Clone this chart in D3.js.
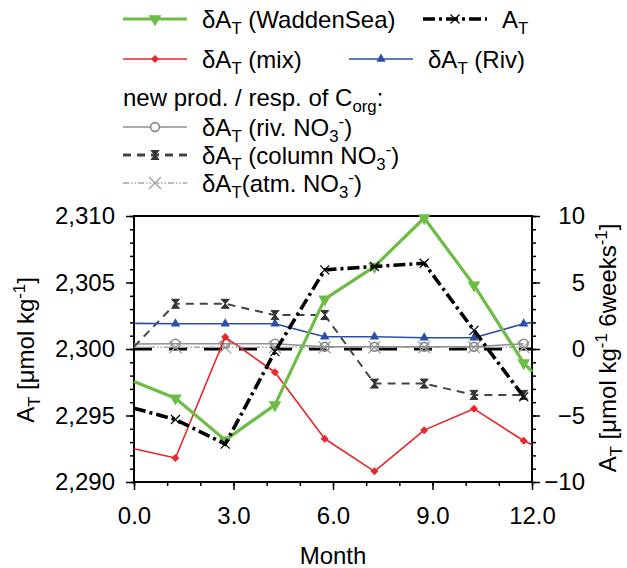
<!DOCTYPE html>
<html>
<head>
<meta charset="utf-8">
<script src="https://cdn.jsdelivr.net/npm/d3@7"></script>
<style>
  body { margin: 0; background: #fff; }
  text { font-family: "Liberation Sans", Arial, sans-serif; fill: #000; }
</style>
</head>
<body>
<script>
// month positions of the 6-week values (first and last entries are the line ends)
const months = [0, 1.25, 2.75, 4.25, 5.75, 7.25, 8.75, 10.25, 11.75, 12];
// values relative to 2300 (right axis units)
const wadden = [-2.45, -3.7, -6.85, -4.2, 3.75, 6.2, 9.85, 4.8, -1.05, -1.7];
const mix    = [-7.5, -8.2, 0.9, -1.75, -6.75, -9.2, -6.1, -4.5, -6.9, -7.2];
const riv    = [1.93, 1.9, 1.9, 1.9, 0.92, 0.92, 0.85, 0.85, 1.9, 2.0];
const aT     = [-4.45, -5.3, -7.15, -0.2, 5.95, 6.2, 6.45, 1.4, -3.6, null];
const rivNO3 = [0.37, 0.4, 0.4, 0.4, 0.17, 0.17, 0.17, 0.17, 0.4, null];
const colNO3 = [0.17, 3.4, 3.4, 2.55, 2.55, -2.6, -2.6, -3.45, -3.45, null];
const atmNO3 = [0.13, 0.13, 0.13, 0.13, 0.13, 0.13, 0.13, 0.13, 0.13, null];

const leftTicks = [2290, 2295, 2300, 2305, 2310];
const rightTicks = [-10, -5, 0, 5, 10];
const xTicks = [0, 3, 6, 9, 12];

const W = 627, H = 568;
const plot = {left: 134, right: 532, top: 216, bottom: 482};

const svg = d3.select("body").append("svg")
  .attr("width", W).attr("height", H);

const x = d3.scaleLinear().domain([0, 12]).range([plot.left, plot.right]);
const yL = d3.scaleLinear().domain([2290, 2310]).range([plot.bottom, plot.top]);
const yR = d3.scaleLinear().domain([-10, 10]).range([plot.bottom, plot.top]);

const FS = 24;

// text with sub/superscripts: parts = [[text, "sub"|"sup"|null], ...]
function richText(g, parts, size) {
  const t = g.append("text").style("font-size", size + "px");
  let shift = 0;
  parts.forEach(p => {
    let target = p[1] === "sub" ? 0.26 * size : p[1] === "sup" ? -0.38 * size : 0;
    const ts = t.append("tspan").text(p[0]).attr("dy", target - shift);
    if (p[1]) ts.style("font-size", (size * 0.7) + "px");
    shift = target;
  });
  return t;
}

// ---- axes ----
function styleAxis(g) {
  g.select(".domain").remove();
  g.selectAll("line").attr("stroke", "#000").attr("stroke-width", 1.5);
  g.selectAll("text").style("font-size", FS + "px");
}

// minor ticks
svg.append("g").attr("transform", `translate(${plot.left},0)`)
  .call(d3.axisLeft(yL).tickValues(d3.range(2290, 2311, 1)).tickSize(4).tickFormat(""))
  .call(styleAxis);
svg.append("g").attr("transform", `translate(${plot.right},0)`)
  .call(d3.axisRight(yR).tickValues(d3.range(-10, 11, 1)).tickSize(4).tickFormat(""))
  .call(styleAxis);
svg.append("g").attr("transform", `translate(0,${plot.bottom})`)
  .call(d3.axisBottom(x).tickValues(d3.range(0, 13, 1)).tickSize(4).tickFormat(""))
  .call(styleAxis);

// major ticks
svg.append("g").attr("transform", `translate(${plot.left},0)`)
  .call(d3.axisLeft(yL).tickValues(leftTicks).tickSize(8).tickPadding(11).tickFormat(d3.format(",")))
  .call(styleAxis);
const ra = svg.append("g").attr("transform", `translate(${plot.right},0)`)
  .call(d3.axisRight(yR).tickValues(rightTicks).tickSize(8).tickFormat(d3.format("d")))
  .call(styleAxis);
ra.selectAll("text").attr("text-anchor", "end").attr("x", 53);
svg.append("g").attr("transform", `translate(0,${plot.bottom})`)
  .call(d3.axisBottom(x).tickValues(xTicks).tickSize(8).tickPadding(17).tickFormat(d3.format(".1f")))
  .call(styleAxis);

// frame
svg.append("path")
  .attr("d", `M${plot.left},${plot.bottom}V${plot.top}H${plot.right}V${plot.bottom}H${plot.left}`)
  .attr("fill", "none").attr("stroke", "#000").attr("stroke-width", 2);

// axis titles
svg.append("text").attr("x", (plot.left + plot.right) / 2).attr("y", 564)
  .attr("text-anchor", "middle").style("font-size", FS + "px").text("Month");

const lt = richText(svg.append("g").attr("transform", "translate(34,350) rotate(-90)"),
  [["A"], ["T", "sub"], [" [\u03bcmol kg"], ["-1", "sup"], ["]"]], FS);
lt.attr("text-anchor", "middle");
const rt = richText(svg.append("g").attr("transform", "translate(616,348) rotate(-90)"),
  [["A"], ["T", "sub"], [" [\u03bcmol kg"], ["-1", "sup"], [" 6weeks"], ["-1", "sup"], ["]"]], FS);
rt.attr("text-anchor", "middle");

// ---- series ----
const pts = arr => months.map((m, i) => [m, arr[i]]);
const line = d3.line().defined(d => d[1] != null).x(d => x(d[0])).y(d => yR(d[1]));

const hourglass = "M-4,-4.5L4,-4.5L-4,4.5L4,4.5Z";
const cross = s => `M${-s},${-s}L${s},${s}M${-s},${s}L${s},${-s}`;

const series = [
  {data: atmNO3, color: "#a8a8a8", width: 1.4, dash: "6,2,1.5,2,1.5,2",
   marker: {d: cross(6), fill: "none", stroke: "#a8a8a8", sw: 1.5}},
  {data: rivNO3, color: "#909090", width: 1.5, dash: null,
   marker: {d: d3.symbol(d3.symbolCircle, 60)(), fill: "none", stroke: "#8a8a8a", sw: 1.6}},
  {data: colNO3, color: "#444", width: 2, dash: "8,6",
   marker: {d: hourglass, fill: "#333", stroke: "#333", sw: 1}},
  {data: riv, color: "#2b4ea6", width: 1.6, dash: null,
   marker: {d: d3.symbol(d3.symbolTriangle, 38)(), fill: "#2b4ea6", stroke: "none", sw: 0}},
  {data: mix, color: "#e8262b", width: 1.6, dash: null,
   marker: {d: d3.symbol(d3.symbolSquare, 32)(), rot: 45, fill: "#e8262b", stroke: "none", sw: 0}},
  {data: wadden, color: "#6cbd45", width: 3.2, dash: null,
   marker: {d: d3.symbol(d3.symbolTriangle, 70)(), rot: 180, fill: "#6cbd45", stroke: "none", sw: 0}},
  {data: aT, color: "#000", width: 3.6, dash: "12,4,3,4",
   marker: {d: cross(4.5), fill: "none", stroke: "#000", sw: 1.2}}
];

// zero reference (thick dashes)
svg.append("line")
  .attr("x1", x(0)).attr("x2", x(12)).attr("y1", yR(0)).attr("y2", yR(0))
  .attr("stroke", "#000").attr("stroke-width", 3).attr("stroke-dasharray", "18,17");

series.forEach(s => {
  const g = svg.append("g");
  g.append("path").datum(pts(s.data)).attr("d", line)
    .attr("fill", "none").attr("stroke", s.color).attr("stroke-width", s.width)
    .attr("stroke-linejoin", "round")
    .attr("stroke-dasharray", s.dash);
  g.selectAll(".m").data(pts(s.data).slice(1, 9).filter(d => d[1] != null))
    .join("path")
    .attr("transform", d => `translate(${x(d[0])},${yR(d[1])}) rotate(${s.marker.rot || 0})`)
    .attr("d", s.marker.d)
    .attr("fill", s.marker.fill).attr("stroke", s.marker.stroke).attr("stroke-width", s.marker.sw);
});

// ---- legend ----
const leg = svg.append("g");
function legItem(x0, y0, s, label, lineW) {
  leg.append("line").attr("x1", x0).attr("x2", x0 + 64).attr("y1", y0).attr("y2", y0)
    .attr("stroke", s.color).attr("stroke-width", lineW || s.width).attr("stroke-dasharray", s.dash);
  leg.append("path")
    .attr("transform", `translate(${x0 + 32},${y0}) rotate(${s.marker.rot || 0})`)
    .attr("d", s.marker.d).attr("fill", s.marker.fill === "none" ? "#fff" : s.marker.fill)
    .attr("stroke", s.marker.stroke).attr("stroke-width", s.marker.sw);
  richText(leg.append("g").attr("transform", `translate(${x0 + 79},${y0 + 9})`), label, FS);
}
const dAT = [["\u03b4A"], ["T", "sub"]];
legItem(123, 19, series[5], dAT.concat([[" (WaddenSea)"]]));
legItem(423, 19, series[6], [["A"], ["T", "sub"]]);
legItem(123, 59, series[4], dAT.concat([[" (mix)"]]));
legItem(349, 59, series[3], dAT.concat([[" (Riv)"]]));
richText(leg.append("g").attr("transform", "translate(123,106)"),
  [["new prod. / resp. of C"], ["org", "sub"], [":"]], FS);
legItem(123, 127, series[1], dAT.concat([[" (riv. NO"], ["3", "sub"], ["-", "sup"], [")"]]));
legItem(123, 155, series[2], dAT.concat([[" (column NO"], ["3", "sub"], ["-", "sup"], [")"]]), 3);
legItem(123, 183, series[0], dAT.concat([["(atm. NO"], ["3", "sub"], ["-", "sup"], [")"]]));
</script>
</body>
</html>
